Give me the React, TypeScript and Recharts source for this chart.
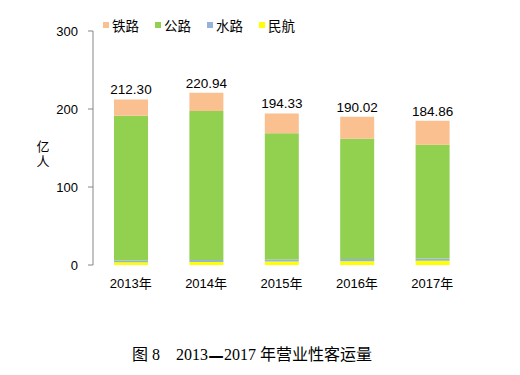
import React from 'react';
import { BarChart, Bar, XAxis, YAxis, LabelList, Legend } from 'recharts';

const years = ['2013年', '2014年', '2015年', '2016年', '2017年'];
const rail = [21.06, 23.57, 25.35, 28.14, 30.84];
const road = [185.35, 190.82, 161.91, 154.28, 145.67];
const water = [2.35, 2.63, 2.71, 2.72, 2.83];
const air = [3.54, 3.92, 4.36, 4.88, 5.52];
const totals = ['212.30', '220.94', '194.33', '190.02', '184.86'];
const yTicks = [0, 100, 200, 300];
const boundaryTicks = [0, 1, 2, 3, 4, 5];

const legendItems = [
  { name: '铁路', color: '#FAC090' },
  { name: '公路', color: '#92D050' },
  { name: '水路', color: '#95B3D7' },
  { name: '民航', color: '#FFFF00' },
];

const data = years.map((y, i) => ({
  year: y,
  rail: rail[i],
  road: road[i],
  water: water[i],
  air: air[i],
  total: totals[i],
}));

const AXIS = '#868686';
const SANS = '"Liberation Sans", Arial, "Noto Sans CJK SC", sans-serif';

const LegendContent = () => (
  <div style={{ display: 'flex', fontFamily: SANS, fontSize: 13.5, color: '#000' }}>
    {legendItems.map((it) => (
      <div key={it.name} style={{ display: 'flex', alignItems: 'center', width: 52 }}>
        <span style={{ display: 'inline-block', width: 6, height: 6, background: it.color, marginRight: 3 }} />
        <span>{it.name}</span>
      </div>
    ))}
  </div>
);

const YLabel = () => (
  <text fontFamily={SANS} fontSize={13} fill="#000" textAnchor="middle">
    <tspan x={43} y={151}>亿</tspan>
    <tspan x={43} y={166}>人</tspan>
  </text>
);

export default function App() {
  return (
    <div style={{ position: 'absolute', left: 0, top: 0, width: 520, height: 375, background: '#fff' }}>
      <BarChart
        width={520}
        height={375}
        data={data}
        margin={{ top: 31, right: 50, bottom: 80, left: 53 }}
        barSize={34}
      >
        <XAxis
          xAxisId="grid"
          type="number"
          domain={[0, 5]}
          ticks={boundaryTicks}
          height={0}
          tick={() => <g />}
          tickSize={5}
          axisLine={{ stroke: AXIS }}
          tickLine={{ stroke: AXIS }}
        />
        <XAxis
          xAxisId="cat"
          dataKey="year"
          height={30}
          axisLine={false}
          tickLine={false}
          tickSize={0}
          tickMargin={14}
          tick={{ fontFamily: SANS, fontSize: 13, fill: '#000' }}
        />
        <YAxis
          width={40}
          domain={[0, 300]}
          ticks={yTicks}
          interval={0}
          tickSize={5}
          tickMargin={10}
          axisLine={{ stroke: AXIS }}
          tickLine={{ stroke: AXIS }}
          tick={{ fontFamily: SANS, fontSize: 13, fill: '#000' }}
          label={{ content: <YLabel /> }}
        />
        <Legend
          layout="horizontal"
          verticalAlign="middle"
          content={<LegendContent />}
          wrapperStyle={{ top: 15, left: 103, width: 230, height: 18 }}
        />
        <Bar xAxisId="cat" dataKey="air" stackId="a" fill="#FFFF00" isAnimationActive={false} />
        <Bar xAxisId="cat" dataKey="water" stackId="a" fill="#95B3D7" isAnimationActive={false} />
        <Bar xAxisId="cat" dataKey="road" stackId="a" fill="#92D050" isAnimationActive={false} />
        <Bar xAxisId="cat" dataKey="rail" stackId="a" fill="#FAC090" isAnimationActive={false}>
          <LabelList dataKey="total" position="top" offset={5} fontFamily={SANS} fontSize={13.5} fill="#000" />
        </Bar>
      </BarChart>
      <div
        style={{
          position: 'absolute',
          left: 132,
          top: 341,
          fontFamily: '"Liberation Serif", "Noto Sans CJK SC", serif',
          fontSize: 16,
          whiteSpace: 'pre',
          color: '#000',
        }}
      >
        {'图 8    2013'}
        <span style={{ fontWeight: 'bold', display: 'inline-block', transform: 'scale(0.85, 1.8)' }}>{'—'}</span>
        {'2017 年营业性客运量'}
      </div>
    </div>
  );
}
